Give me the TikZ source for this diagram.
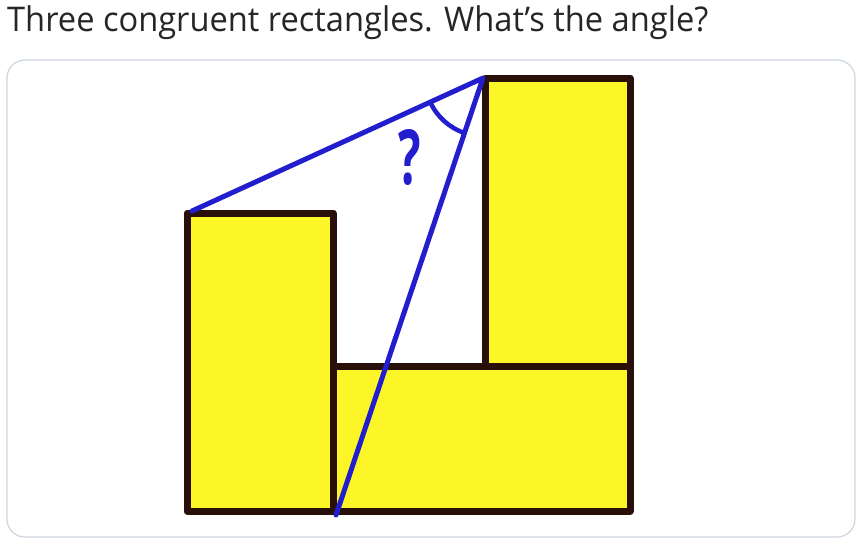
\documentclass[tikz,border=0pt]{standalone}
\usepackage{fontspec}
\setmainfont{Open Sans}
\definecolor{rectyellow}{RGB}{252,246,40}
\definecolor{inkblack}{RGB}{40,15,10}
\definecolor{penblue}{RGB}{35,30,205}
\definecolor{framegray}{RGB}{205,214,222}
\tikzset{
  rectbox/.style={draw=inkblack, fill=rectyellow, line width=7pt, line join=round},
  penline/.style={draw=penblue, line width=5pt, line cap=round, line join=round},
}
\begin{document}
\begin{tikzpicture}[x=1pt,y=-1pt]
\useasboundingbox (0,0) rectangle (862,542);
\fill[white] (0,0) rectangle (862,542);
\node[anchor=west, inner sep=0pt, xscale=0.96, font=\fontsize{34}{40}\selectfont, text=black!85] (title) at (7,23) {Three congruent rectangles. What’s the angle?};
\draw[framegray, line width=1.2pt, rounded corners=18pt] (7,60) rectangle (855,537);
% rectangles
\draw[rectbox] (187,213) rectangle (333,511);
\draw[rectbox] (333,366) rectangle (630,511);
\draw[rectbox] (485,78) rectangle (630,366);
% blue lines
\coordinate (A) at (192,211);
\coordinate (V) at (483,78);
\coordinate (B) at (336,515);
\draw[penline] (A) -- (V) -- (B);
\draw[penblue, line width=4.5pt] (V) ++(155.4:58) arc[start angle=155.4, end angle=108.6, radius=58];
\node[text=penblue, inner sep=0pt, xscale=0.62, font=\fontsize{76}{80}\bfseries\selectfont] (q) at (410,157) {?};
\end{tikzpicture}
\end{document}
